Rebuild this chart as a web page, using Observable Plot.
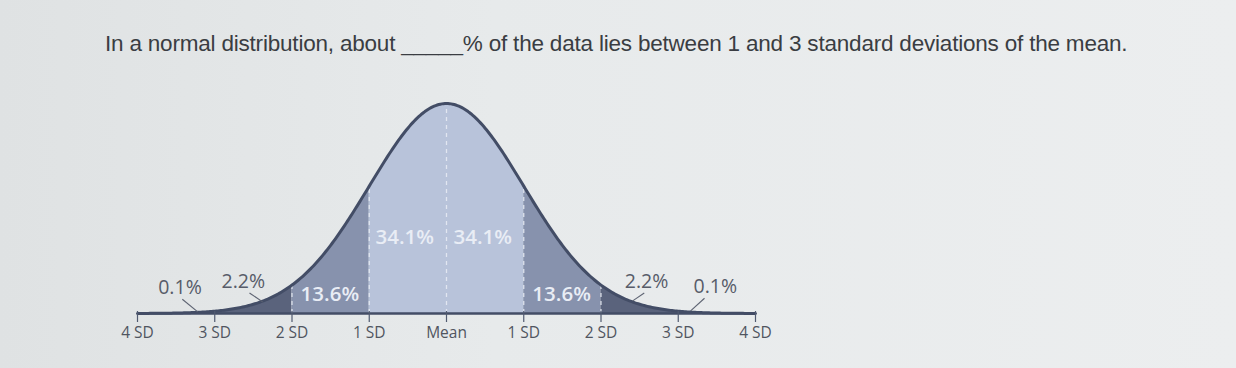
<!DOCTYPE html>
<html><head><meta charset="utf-8">
<script src="https://cdn.jsdelivr.net/npm/d3@7"></script>
<script src="https://cdn.jsdelivr.net/npm/@observablehq/plot@0.6"></script>
<style>
html,body{margin:0;padding:0;}
body{width:1236px;height:368px;overflow:hidden;background:linear-gradient(90deg,#dfe2e3 0%,#e7eaeb 40%,#eceeef 100%);}
#title{position:absolute;left:105px;top:31px;font-family:"Liberation Sans",Arial,sans-serif;font-size:22.5px;color:#3a3d42;white-space:nowrap;letter-spacing:-0.2px;}
#chart{position:absolute;left:0;top:80px;}
</style></head>
<body>
<div id="title">In a normal distribution, about _____% of the data lies between 1 and 3 standard deviations of the mean.</div>
<div id="chart"></div>
<script>
// Tick positions (in SD units) and their labels
const sdTicks = [-4, -3, -2, -1, 0, 1, 2, 3, 4];
const tickLabels = ["4 SD", "3 SD", "2 SD", "1 SD", "Mean", "1 SD", "2 SD", "3 SD", "4 SD"];
// Bands between SD boundaries and their share of the data
const bandStart = [-4, -3, -2, -1, 0, 1, 2, 3];
const bandEnd   = [-3, -2, -1, 0, 1, 2, 3, 4];
const bandPercent = ["0.1%", "2.2%", "13.6%", "34.1%", "34.1%", "13.6%", "2.2%", "0.1%"];
const bandTone = ["tail", "outer", "middle", "inner", "inner", "middle", "outer", "tail"];
// Label anchor (SD units) and height (density units) for each band label
const labelX = [-3.45, -2.63, -1.51, -0.54, 0.47, 1.49, 2.59, 3.48];
const labelY = [0.049, 0.061, 0.036, 0.144, 0.144, 0.036, 0.061, 0.051];
// Leader lines for the small outer labels
const leaderX1 = [-3.42, -2.55, 2.56, 3.34];
const leaderY1 = [0.027, 0.039, 0.039, 0.029];
const leaderX2 = [-3.22, -2.38, 2.41, 3.16];
const leaderY2 = [0.003, 0.022, 0.024, 0.005];

const pdf = x => Math.exp(-x * x / 2) / Math.sqrt(2 * Math.PI);
const toneColor = {tail: "#5a637c", outer: "#5a637c", middle: "#8792ad", inner: "#b8c3da"};

const step = 0.02;
const bandPts = [];
bandStart.forEach((s, i) => {
  const n = Math.round((bandEnd[i] - s) / step);
  for (let k = 0; k <= n; k++) {
    const x = s + k * step;
    bandPts.push({band: i, x, y: pdf(x)});
  }
});
const curve = d3.range(0, 401).map(k => { const x = -4 + k * step; return {x, y: pdf(x)}; });

const labels = bandPercent.map((t, i) => ({t, x: labelX[i], y: labelY[i], light: bandTone[i] === "middle" || bandTone[i] === "inner"}));
const leaders = leaderX1.map((x1, i) => ({x1, y1: leaderY1[i], x2: leaderX2[i], y2: leaderY2[i]}));
const dashLines = [-2, -1, 0, 1, 2].map(x => ({x, y: pdf(x)}));
const ticks = sdTicks.map((x, i) => ({x, label: tickLabels[i]}));

const plot = Plot.plot({
  width: 1236,
  height: 288,
  marginLeft: 137,
  marginRight: 481,
  marginTop: 23,
  marginBottom: 55,
  x: {domain: [-4, 4], axis: null},
  y: {domain: [0, pdf(0)], axis: null},
  style: {background: "transparent", overflow: "visible"},
  marks: [
    ...bandStart.map((s, i) => Plot.areaY(bandPts.filter(d => d.band === i), {x: "x", y: "y", fill: toneColor[bandTone[i]]})),
    Plot.ruleX(dashLines, {x: "x", y1: 0, y2: d => d.y * 0.985, stroke: "#e8ecf4", strokeWidth: 1.3, strokeDasharray: "4,4", strokeOpacity: 0.85}),
    Plot.line(curve, {x: "x", y: "y", stroke: "#434d66", strokeWidth: 3}),
    Plot.ruleY([0], {x1: -4, x2: 4, stroke: "#434d66", strokeWidth: 2.5}),
    Plot.ruleX(ticks, {x: "x", y1: 0, y2: 0, insetTop: -2, insetBottom: -9, stroke: "#505a70", strokeWidth: 1.2}),
    Plot.link(leaders, {x1: "x1", y1: "y1", x2: "x2", y2: "y2", stroke: "#5d6372", strokeWidth: 1.1}),
    Plot.text(labels.filter(d => d.light), {x: "x", y: "y", text: "t", fill: "#e9edf5", fontSize: 20.5, fontFamily: "'Open Sans', 'DejaVu Sans', sans-serif", fontWeight: 600, textAnchor: "middle"}),
    Plot.text(labels.filter(d => !d.light), {x: "x", y: "y", text: "t", fill: "#575c69", fontSize: 19.5, fontFamily: "'Open Sans', 'DejaVu Sans', sans-serif", textAnchor: "middle"}),
    Plot.text(ticks, {x: "x", y: 0, text: "label", dy: 20, fill: "#50555f", fontSize: 15.5, fontFamily: "'Open Sans', 'DejaVu Sans', sans-serif", textAnchor: "middle"})
  ]
});
document.getElementById("chart").appendChild(plot);
</script>
</body></html>
